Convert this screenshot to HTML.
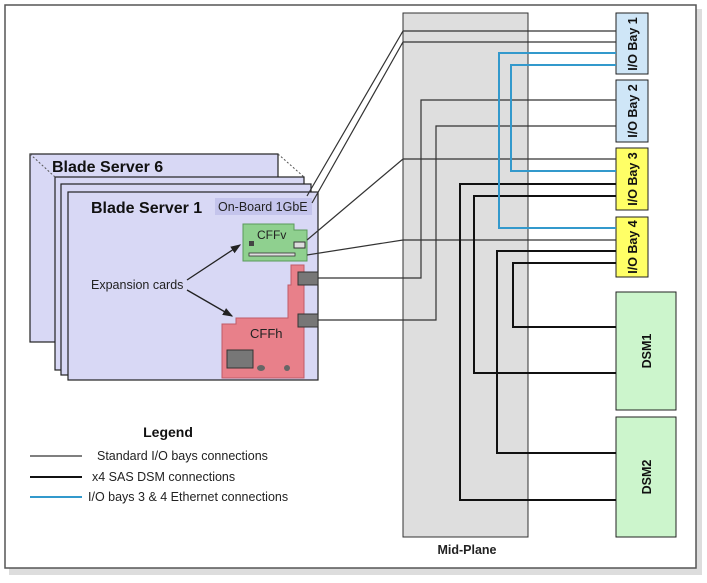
<!DOCTYPE html>
<html><head><meta charset="utf-8"><style>
html,body{margin:0;padding:0;background:#fff;width:707px;height:583px;overflow:hidden}
svg{display:block;font-family:"Liberation Sans",Arial,sans-serif}
</style></head><body>
<svg width="707" height="583" viewBox="0 0 707 583" xmlns="http://www.w3.org/2000/svg">
<rect x="9" y="9" width="693" height="566" fill="#bbb" opacity="0.5"/>
<rect x="5" y="5" width="691" height="563" fill="#fff" stroke="#555" stroke-width="1.5"/>
<!-- midplane -->
<rect x="403" y="13" width="125" height="524" fill="#dedede" stroke="#333" stroke-width="1"/>
<text x="467" y="554" font-size="12.5" font-weight="bold" text-anchor="middle" fill="#222">Mid-Plane</text>
<!-- bays -->
<g stroke="#222" stroke-width="1">
<rect x="616" y="13" width="32" height="61" fill="#cfe6f7"/>
<rect x="616" y="80" width="32" height="62" fill="#cfe6f7"/>
<rect x="616" y="148" width="32" height="62" fill="#ffff66"/>
<rect x="616" y="217" width="32" height="60" fill="#ffff66"/>
<rect x="616" y="292" width="60" height="118" fill="#ccf5cc"/>
<rect x="616" y="417" width="60" height="120" fill="#ccf5cc"/>
</g>
<g font-size="12.5" font-weight="bold" fill="#111" text-anchor="middle">
<text transform="translate(637,44) rotate(-90)">I/O Bay 1</text>
<text transform="translate(637,111) rotate(-90)">I/O Bay 2</text>
<text transform="translate(637,179) rotate(-90)">I/O Bay 3</text>
<text transform="translate(637,247) rotate(-90)">I/O Bay 4</text>
<text transform="translate(651,351) rotate(-90)">DSM1</text>
<text transform="translate(651,477) rotate(-90)">DSM2</text>
</g>
<!-- blade servers -->
<g stroke="#222" stroke-width="1.2" fill="#d8d8f5">
<rect x="30" y="154" width="248" height="188"/>
<rect x="55" y="177" width="249" height="193"/>
<rect x="61" y="184" width="250" height="191"/>
<rect x="68" y="192" width="250" height="188"/>
</g>
<g stroke="#555" stroke-dasharray="2,2" stroke-width="1" fill="none">
<line x1="30" y1="154" x2="55" y2="177"/><line x1="278" y1="154" x2="304" y2="177"/>
</g>
<text x="52" y="172" font-size="16" font-weight="bold" fill="#111">Blade Server 6</text>
<text x="91" y="213" font-size="16" font-weight="bold" fill="#111">Blade Server 1</text>
<rect x="215" y="198" width="97" height="17" fill="#c4c4ec"/>
<text x="218" y="211" font-size="12.5" fill="#222">On-Board 1GbE</text>
<!-- CFFv -->
<path d="M243 224 H294 V230 H307 V261 H243 Z" fill="#8fd08f" stroke="#5a9a5a"/>
<text x="257" y="239" font-size="12" fill="#222">CFFv</text>
<rect x="249" y="241" width="5" height="5" fill="#444"/>
<rect x="294" y="242" width="11" height="6" fill="#ddd" stroke="#333"/>
<rect x="249" y="253" width="46" height="3" fill="#ddd" stroke="#333" stroke-width="0.8"/>
<!-- CFFh -->
<path d="M291 265 H304 V378 H222 V324 H236 V318 H288 V285 H291 Z" fill="#e8808a" stroke="#c05a66"/>
<text x="250" y="338" font-size="13" fill="#222">CFFh</text>
<rect x="227" y="350" width="26" height="18" fill="#777" stroke="#333"/>
<ellipse cx="261" cy="368" rx="4" ry="3" fill="#666"/>
<ellipse cx="287" cy="368" rx="3" ry="3" fill="#666"/>
<rect x="298" y="272" width="20" height="13" fill="#777" stroke="#333"/>
<rect x="298" y="314" width="20" height="13" fill="#777" stroke="#333"/>
<text x="91" y="289" font-size="12.5" fill="#222">Expansion cards</text>
<defs><marker id="a" markerWidth="8" markerHeight="8" refX="7" refY="4" orient="auto"><path d="M0,1 L8,4 L0,7 Z" fill="#222"/></marker></defs>
<line x1="187" y1="280" x2="240" y2="245" stroke="#222" stroke-width="1.3" marker-end="url(#a)"/>
<line x1="187" y1="290" x2="232" y2="316" stroke="#222" stroke-width="1.3" marker-end="url(#a)"/>
<!-- standard lines -->
<g stroke="#333" stroke-width="1.2" fill="none">
<polyline points="307,196 403,31 616,31"/>
<polyline points="312,203 403,42 616,42"/>
<polyline points="318,278 421,278 421,100 616,100"/>
<polyline points="318,320 436,320 436,126 616,126"/>
<polyline points="307,240 403,159 616,159"/>
<polyline points="307,255 403,240 616,240"/>
</g>
<!-- SAS -->
<g stroke="#111" stroke-width="2" fill="none">
<polyline points="616,184 460,184 460,500 616,500"/>
<polyline points="616,196 474,196 474,373 616,373"/>
<polyline points="616,251 497,251 497,453 616,453"/>
<polyline points="616,263 513,263 513,327 616,327"/>
</g>
<!-- blue -->
<g stroke="#3399cc" stroke-width="2" fill="none">
<polyline points="616,53 499,53 499,228 616,228"/>
<polyline points="616,65 511,65 511,171 616,171"/>
</g>
<!-- legend -->
<text x="168" y="437" font-size="14" font-weight="bold" fill="#111" text-anchor="middle">Legend</text>
<line x1="30" y1="456" x2="82" y2="456" stroke="#333" stroke-width="1.2"/>
<line x1="30" y1="477" x2="82" y2="477" stroke="#111" stroke-width="2"/>
<line x1="30" y1="497" x2="82" y2="497" stroke="#3399cc" stroke-width="2"/>
<g font-size="12.5" fill="#222">
<text x="97" y="460">Standard I/O bays connections</text>
<text x="92" y="481">x4 SAS DSM connections</text>
<text x="88" y="501">I/O bays 3 &amp; 4 Ethernet connections</text>
</g>
</svg>
</body></html>
